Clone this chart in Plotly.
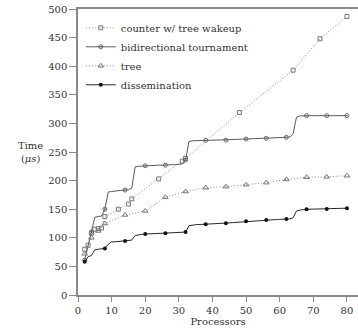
import plotly.graph_objects as go

# ---- data ----
procs = list(range(2, 81))
bidir = [61, 88, 110, 136, 137, 138, 150, 180, 181, 182, 182, 183, 183.5, 184, 187,
         224, 225, 225.5, 226, 226, 226.5, 226.5, 227, 227, 227, 227.5, 228, 228, 228.5, 229,
         236, 268, 269.5, 270, 270, 270.2, 270.4, 270.4, 270.5, 270.5, 270.6, 270.6, 270.7,
         271, 271.5, 272, 272.3, 272.5, 272.7, 273, 273.2, 273.4, 273.6, 273.8, 274,
         274.3, 274.6, 275, 275.3, 275.5, 275.7, 276, 282, 311, 313,
         313.5, 313.5, 313.5, 313.5, 313.5, 313.5, 313.5, 313.5, 313.5, 313.5, 313.5, 313.5, 313.5, 313.5]
dissem = [58, 67, 69, 79, 80, 81, 81.5, 89, 93, 93, 93.5, 94, 94.5, 95, 96,
          104, 105.5, 106, 106.5, 106.8, 107, 107.2, 107.5, 107.7, 108, 108.2, 108.5, 108.8, 109, 109.3,
          110, 121, 122.5, 123, 123.2, 123.4, 123.6, 124, 124.3, 124.6, 124.9, 125.1, 125.3,
          126, 126.5, 127, 127.6, 128.2, 128.8, 129.2, 129.6, 130, 130.3, 130.7, 131,
          131.3, 131.6, 131.9, 132.2, 132.5, 132.8, 133, 135, 147, 148.5,
          149.5, 149.8, 150, 150.2, 150.3, 150.3, 150.3, 150.3, 150.3, 150.6, 150.9, 151.2, 151.5, 151.8, 152]
bidir_marks = [2, 4, 8, 14, 20, 26, 32, 38, 44, 50, 56, 62, 68, 74, 80]
dissem_marks = [2, 8, 14, 20, 26, 32, 38, 44, 50, 56, 62, 68, 74, 80]

tree_x = [2, 4, 6, 8, 14, 20, 26, 32, 38, 44, 50, 56, 62, 68, 74, 80]
tree_y = [72, 100, 112, 125, 140, 147, 171, 181, 187.6, 189.4, 192.9, 196.4, 202, 205.8, 206.5, 208.6]

counter_x = [2, 3, 4, 5, 6, 7, 8, 12, 15, 16, 24, 31, 32, 48, 64, 72, 80]
counter_y = [80, 87, 108, 115, 116, 117, 137, 150, 159, 168, 203, 234, 239, 319, 393, 448, 487]

x_ticks = [0, 10, 20, 30, 40, 50, 60, 70, 80]
y_ticks = [0, 50, 100, 150, 200, 250, 300, 350, 400, 450, 500]

FONT = "DejaVu Serif"
FS = 10
GRAY = "#8a8a8a"
DOT = "1px,2px"

fig = go.Figure()

# counter w/ tree wakeup
fig.add_trace(go.Scatter(x=counter_x, y=counter_y, mode="lines+markers",
                         name="counter w/ tree wakeup", legendgroup="a",
                         line=dict(color="#8c8c8c", width=1, dash=DOT),
                         marker=dict(symbol="square-open", size=4, color="#777777", line=dict(width=1))))

# bidirectional tournament
fig.add_trace(go.Scatter(x=procs, y=bidir, mode="lines", showlegend=False, legendgroup="b",
                         line=dict(color="#5a5a5a", width=1)))
fig.add_trace(go.Scatter(x=[p for p in procs if p in bidir_marks],
                         y=[v for p, v in zip(procs, bidir) if p in bidir_marks],
                         mode="markers", showlegend=False, legendgroup="b",
                         marker=dict(symbol="circle-open-dot", size=4, color="#666666", line=dict(width=1))))
fig.add_trace(go.Scatter(x=[None], y=[None], mode="lines+markers", name="bidirectional tournament",
                         legendgroup="b", line=dict(color="#5a5a5a", width=1),
                         marker=dict(symbol="circle-open-dot", size=4, color="#666666", line=dict(width=1))))

# tree
fig.add_trace(go.Scatter(x=tree_x, y=tree_y, mode="lines+markers", name="tree", legendgroup="c",
                         line=dict(color="#8c8c8c", width=1, dash=DOT),
                         marker=dict(symbol="triangle-up-open", size=5, color="#777777", line=dict(width=1))))

# dissemination
fig.add_trace(go.Scatter(x=procs, y=dissem, mode="lines", showlegend=False, legendgroup="d",
                         line=dict(color="#2a2a2a", width=1)))
fig.add_trace(go.Scatter(x=[p for p in procs if p in dissem_marks],
                         y=[v for p, v in zip(procs, dissem) if p in dissem_marks],
                         mode="markers", showlegend=False, legendgroup="d",
                         marker=dict(symbol="circle", size=4, color="#111111")))
fig.add_trace(go.Scatter(x=[None], y=[None], mode="lines+markers", name="dissemination",
                         legendgroup="d", line=dict(color="#2a2a2a", width=1),
                         marker=dict(symbol="circle", size=4, color="#111111")))

fig.update_layout(
    width=358, height=331,
    margin=dict(l=78, r=0, t=9, b=36),
    plot_bgcolor="white", paper_bgcolor="white",
    font=dict(family=FONT, size=FS, color="#333333"),
    showlegend=True,
    legend=dict(x=0.01, y=0.985, xanchor="left", yanchor="top",
                bgcolor="rgba(0,0,0,0)", font=dict(family=FONT, size=FS, color="#333333"),
                tracegroupgap=0, itemwidth=30),
    xaxis=dict(range=[0, 83.3], tickvals=x_ticks, ticks="outside", ticklen=5, tickcolor=GRAY,
               showline=True, linecolor=GRAY, linewidth=1.5, mirror=True, showgrid=False,
               zeroline=False, tickfont=dict(family=FONT, size=FS),
               title=dict(text="Processors", font=dict(family=FONT, size=FS), standoff=2)),
    yaxis=dict(range=[0, 500], tickvals=y_ticks, ticks="outside", ticklen=7, tickcolor=GRAY,
               showline=True, linecolor=GRAY, linewidth=1.5, showgrid=False, zeroline=False,
               tickfont=dict(family=FONT, size=FS)),
    annotations=[dict(text="Time<br>(<i>μs</i>)", xref="paper", yref="paper",
                      x=-0.17, y=0.5, xanchor="center", yanchor="middle", showarrow=False,
                      align="center", font=dict(family=FONT, size=FS, color="#333333"))],
)

fig.write_html("out.html")
